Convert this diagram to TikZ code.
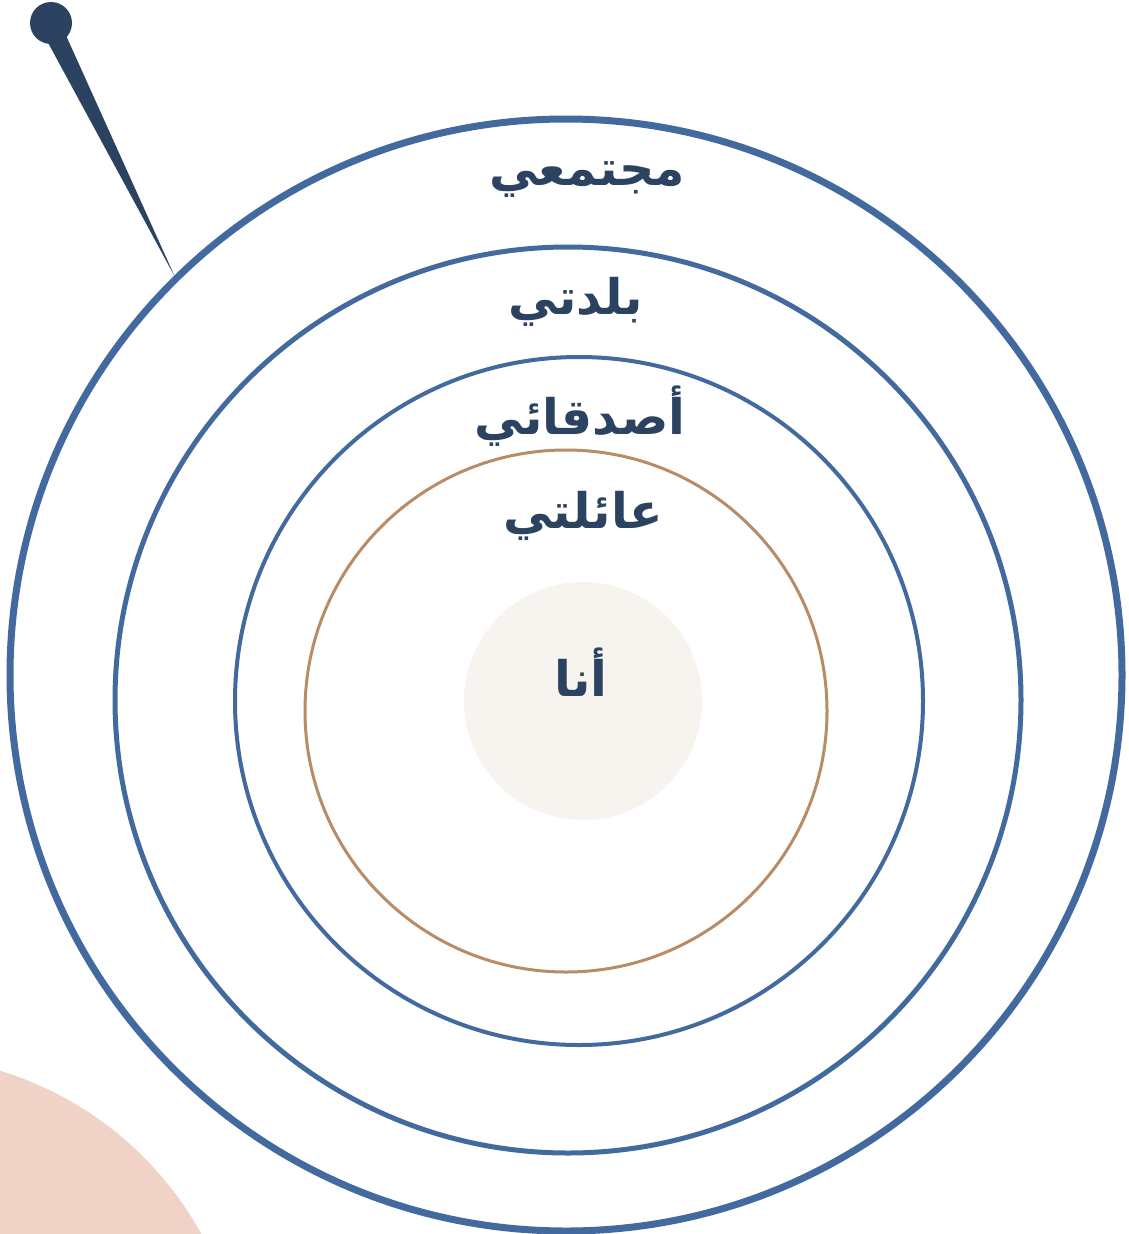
\documentclass[tikz,border=0pt]{standalone}
\usepackage{fontspec}
\newfontfamily\arabicfont[Script=Arabic]{DejaVu Sans}
\TeXXeTstate=1
\definecolor{ringblue}{HTML}{436A9E}
\definecolor{navy}{HTML}{2B4360}
\definecolor{ringbrown}{HTML}{B98C68}
\definecolor{corefill}{HTML}{F7F4F0}
\definecolor{blob}{HTML}{F0D2C7}
\tikzset{
  ring/.style={draw=ringblue},
  lbl/.style={text=navy, font=\fontsize{49}{55}\selectfont\arabicfont\bfseries, inner sep=0pt}
}
\begin{document}
\begin{tikzpicture}[x=1pt,y=-1pt]
\useasboundingbox (0,0) rectangle (1129,1234);
\fill[white] (0,0) rectangle (1129,1234);
% pink blob
\begin{scope}
\clip (0,0) rectangle (1129,1234);
\fill[blob] (-100,1400) circle[radius=344];
\end{scope}
% rings
\draw[ring, line width=7] (566,675) circle[radius=556];
\draw[ring, line width=5] (568,700) circle[radius=453];
\draw[ring, line width=4] (579,701) circle[radius=344];
\draw[draw=ringbrown, line width=3] (566,711) circle[radius=261];
\fill[corefill] (583,701) circle[radius=119];
% pin
\fill[navy] (51,23) circle[radius=21];
\fill[navy] (46,39) -- (64,31) -- (175,277) -- cycle;
% labels
\node[lbl] (l1) at (587,180) {\beginR مجتمعي\endR};
\node[lbl] (l2) at (576,302) {\beginR بلدتي\endR};
\node[lbl] (l3) at (580,416) {\beginR أصدقائي\endR};
\node[lbl] (l4) at (583,516) {\beginR عائلتي\endR};
\node[lbl] (l5) at (581,672) {\beginR أنا\endR};
\end{tikzpicture}
\end{document}
